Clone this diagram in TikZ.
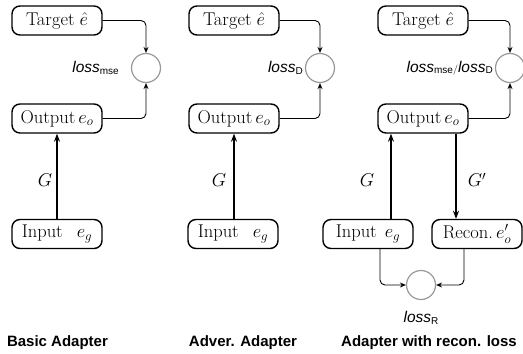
\RequirePackage{fix-cm}
\documentclass[tikz,border=0pt]{standalone}
\usepackage{fontspec}
\setsansfont{Liberation Sans}
\usetikzlibrary{arrows.meta}
\newcommand\boxfont{\fontsize{18.5}{20}\selectfont}
\newcommand\mylossl[1]{{\sffamily\fontsize{15.5}{16}\selectfont\itshape loss}{\sffamily\fontsize{10}{10}\selectfont\raisebox{-1.5pt}{#1}}}
\tikzset{
  box/.style={draw, line width=1.4pt, rounded corners=8pt, minimum width=90pt, minimum height=29pt, inner sep=1pt, font=\boxfont},
  losscirc/.style={circle, draw=black!40, line width=1.2pt, minimum size=29pt, inner sep=0pt},
  thinarrow/.style={-{Stealth[length=6pt,width=5pt]}, line width=0.9pt, rounded corners=5pt},
  thickarrow/.style={-{Stealth[length=8pt,width=6pt]}, line width=1.5pt},
  glabel/.style={font=\boxfont},
  title/.style={font=\sffamily\bfseries\fontsize{15}{16}\selectfont},
  losslabel/.style={inner sep=0pt}
}
\begin{document}
\begin{tikzpicture}[x=1pt,y=-1pt]
\useasboundingbox (0,0) rectangle (523,354);
% ---------- Panel 1 ----------
\node[box] (t1) at (57,20.5) {Target\hspace{5pt}$\hat{e}$};
\node[box] (o1) at (57,118.5) {Output\,$e_o$};
\node[box] (i1) at (57,234) {Input\hspace{14pt}$e_g$};
\node[losscirc] (c1) at (146,68) {};
\node[losslabel, anchor=east] (l1) at (119,68) {\mylossl{mse}};
\draw[thinarrow] (t1.east) -| (c1.north);
\draw[thinarrow] (o1.east) -| (c1.south);
\draw[thickarrow] (i1.north) -- (o1.south);
\node[glabel] (g1) at (45,180) {$G$};
\node[title] (ti1) at (57.5,343) {Basic Adapter};
% ---------- Panel 2 ----------
\node[box] (t2) at (234,20.5) {Target\hspace{5pt}$\hat{e}$};
\node[box] (o2) at (234,118.5) {Output\,$e_o$};
\node[box] (i2) at (233,234) {Input\hspace{14pt}$e_g$};
\node[losscirc] (c2) at (320,68) {};
\node[losslabel, anchor=east] (l2) at (303,68) {\mylossl{D}};
\draw[thinarrow] (t2.east) -| (c2.north);
\draw[thinarrow] (o2.east) -| (c2.south);
\draw[thickarrow] (i2.north -| o2.south) -- (o2.south);
\node[glabel] (g2) at (219,180) {$G$};
\node[title] (ti2) at (243,343) {Adver. Adapter};
% ---------- Panel 3 ----------
\node[box] (t3) at (423,20.5) {Target\hspace{5pt}$\hat{e}$};
\node[box] (o3) at (423,118.5) {Output\,$e_o$};
\node[box] (i3) at (368,234) {Input\hspace{8pt}$e_g$};
\node[box] (r3) at (477,234) {Recon.\,$e'_o$};
\node[losscirc] (c3) at (510,68) {};
\node[losslabel, anchor=east] (l3) at (493,68) {\mylossl{mse}/\mylossl{D}};
\node[losscirc] (c4) at (421,285) {};
\node[losslabel] (l4) at (421,318) {\mylossl{R}};
\draw[thinarrow] (t3.east) -| (c3.north);
\draw[thinarrow] (o3.east) -| (c3.south);
\draw[thickarrow] (i3.north -| 391,0) -- (o3.south -| 391,0);
\draw[thickarrow] (o3.south -| 456,0) -- (r3.north -| 456,0);
\draw[thinarrow] (i3.south -| 380,0) |- (c4.west);
\draw[thinarrow] (r3.south -| 464,0) |- (c4.east);
\node[glabel] (g3) at (367,180) {$G$};
\node[glabel] (g4) at (477,180) {$G'$};
\node[title] (ti3) at (429,343) {Adapter with recon. loss};
\end{tikzpicture}
\end{document}
